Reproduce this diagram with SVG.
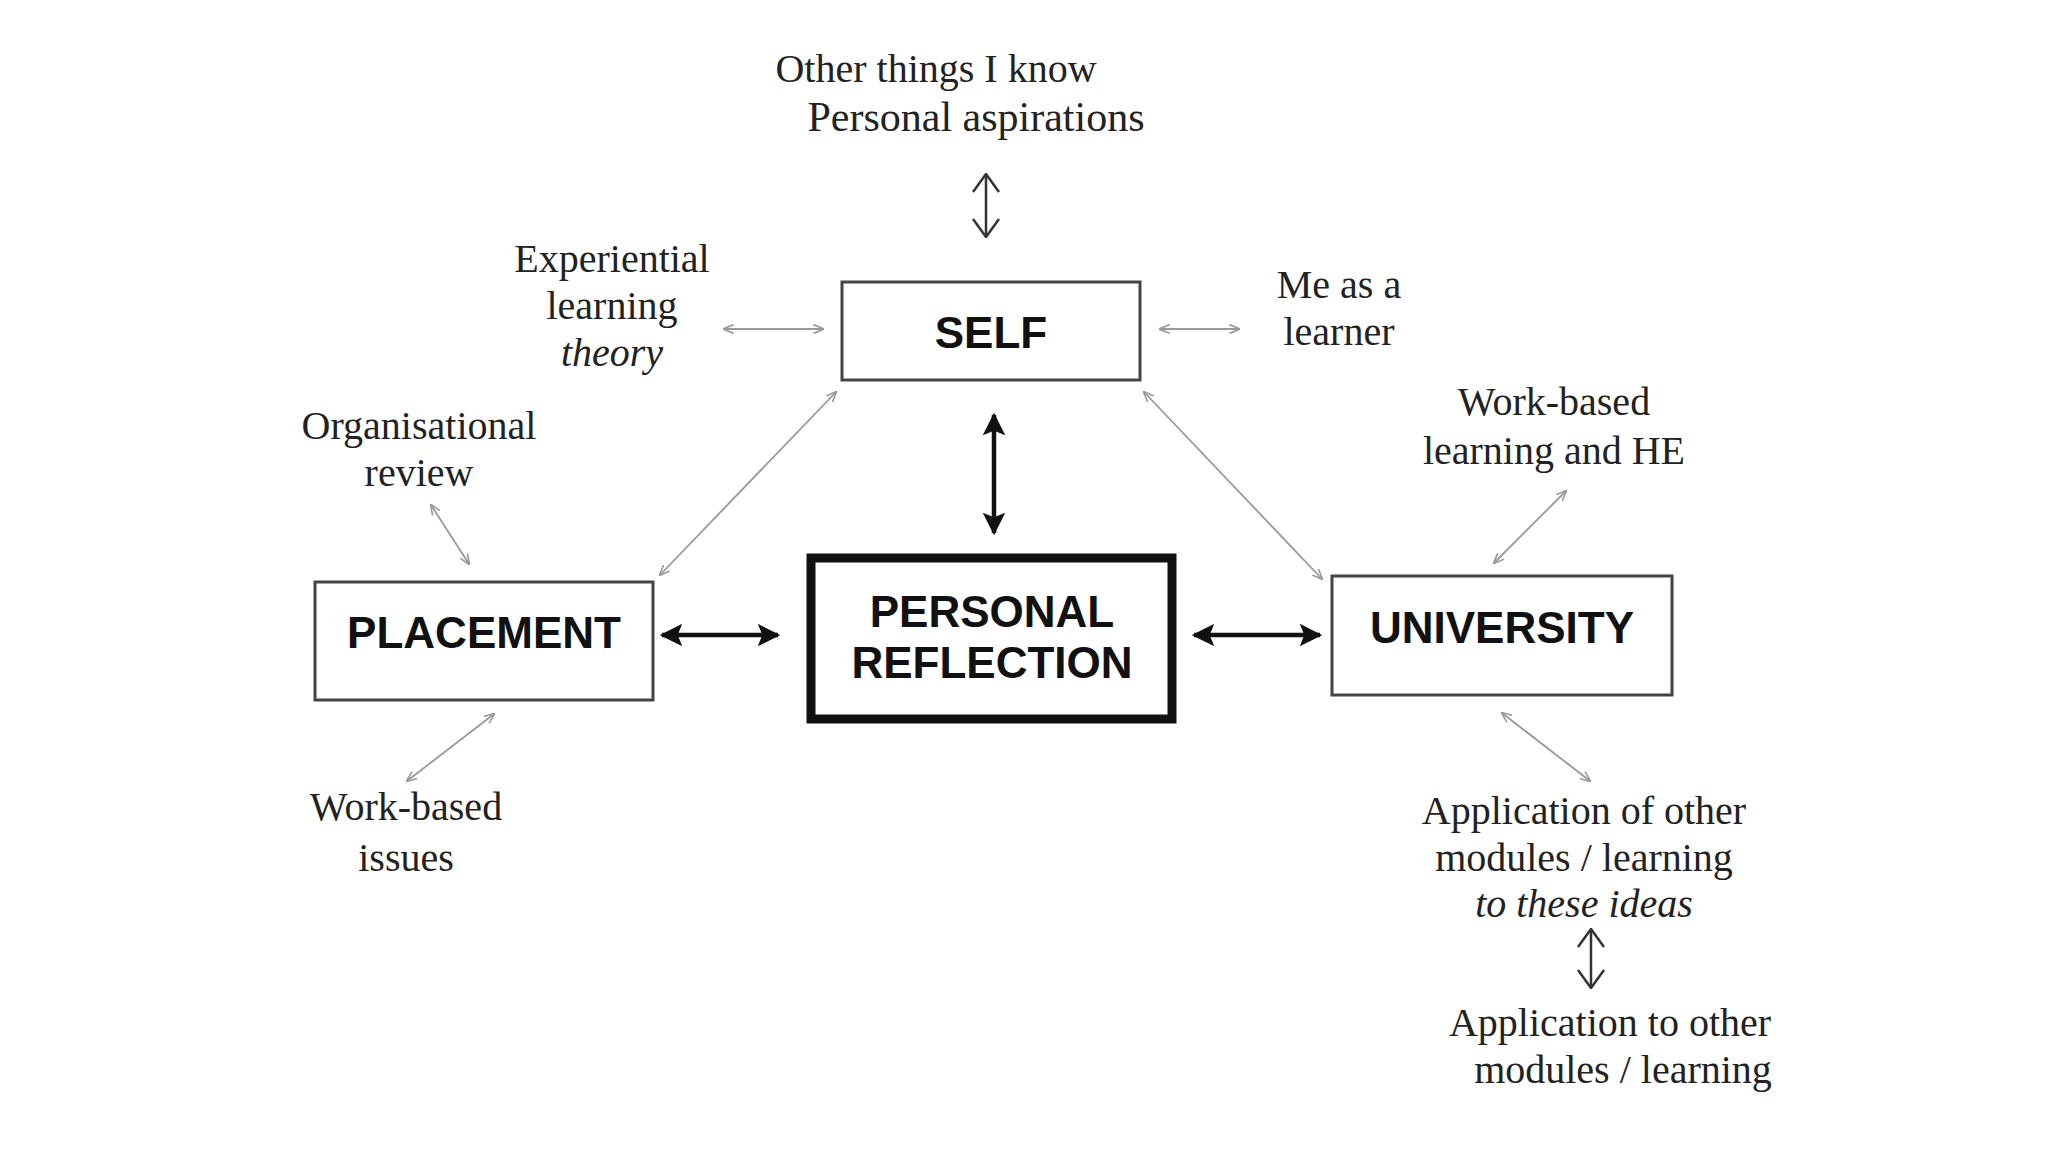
<svg xmlns="http://www.w3.org/2000/svg" width="2048" height="1152" viewBox="0 0 2048 1152">
<defs>
<style>
.lbl{font-family:"Liberation Serif","Times New Roman",serif;font-size:40px;fill:#222;text-anchor:middle}
.it{font-style:italic}
.box{fill:#fff;stroke:#444;stroke-width:3}
.bt{font-family:"Liberation Sans",Arial,sans-serif;font-weight:bold;font-size:44px;fill:#111;text-anchor:middle}
.thick{stroke:#111;stroke-width:4.5;fill:none;marker-start:url(#fh);marker-end:url(#fh)}
.thin{stroke:#999;stroke-width:1.8;fill:none;marker-start:url(#th);marker-end:url(#th)}
.open{stroke:#333;stroke-width:2.5;fill:none;marker-start:url(#oh);marker-end:url(#oh)}
</style>
<marker id="fh" viewBox="0 0 10 10" refX="9" refY="5" markerWidth="5" markerHeight="5" orient="auto-start-reverse" markerUnits="strokeWidth">
<path d="M0,0 L10,5 L0,10 L2,5 Z" fill="#111"/>
</marker>
<marker id="th" viewBox="0 0 10 10" refX="9" refY="5" markerWidth="6" markerHeight="6" orient="auto-start-reverse" markerUnits="strokeWidth">
<path d="M0,1 L10,5 L0,9" fill="none" stroke="#999" stroke-width="1.5"/>
</marker>
<marker id="oh" viewBox="0 0 20 28" refX="19" refY="14" markerWidth="8" markerHeight="11.2" orient="auto-start-reverse" markerUnits="strokeWidth">
<path d="M1,1 L19,14 L1,27" fill="none" stroke="#333" stroke-width="2.5"/>
</marker>
</defs>
<rect width="2048" height="1152" fill="#fff"/>

<g id="connectors">
<line class="open" x1="986" y1="174" x2="986" y2="237"/>
<line class="thin" x1="724" y1="329" x2="823" y2="329"/>
<line class="thin" x1="1160" y1="329" x2="1239" y2="329"/>
<line class="thick" x1="994" y1="415" x2="994" y2="533"/>
<line class="thick" x1="662" y1="635" x2="778" y2="635"/>
<line class="thick" x1="1194" y1="635" x2="1320" y2="635"/>
<line class="thin" x1="836" y1="392" x2="660" y2="575"/>
<line class="thin" x1="1144" y1="392" x2="1322" y2="579"/>
<line class="thin" x1="431" y1="505" x2="469" y2="564"/>
<line class="thin" x1="494" y1="714" x2="407" y2="781"/>
<line class="thin" x1="1566" y1="491" x2="1494" y2="563"/>
<line class="thin" x1="1502" y1="713" x2="1590" y2="781"/>
<line class="open" x1="1591" y1="929" x2="1591" y2="988"/>
</g>

<g id="self">
<rect class="box" x="842" y="282" width="298" height="98"/>
<text class="bt" x="991" y="348">SELF</text>
</g>

<g id="personal-reflection">
<rect x="811" y="558" width="361" height="161" fill="#fff" stroke="#111" stroke-width="9"/>
<text class="bt" x="992" y="627">PERSONAL</text>
<text class="bt" x="992" y="678">REFLECTION</text>
</g>

<g id="placement">
<rect class="box" x="315" y="582" width="338" height="118"/>
<text class="bt" x="484" y="648">PLACEMENT</text>
</g>

<g id="university">
<rect class="box" x="1332" y="576" width="340" height="119"/>
<text class="bt" x="1502" y="643">UNIVERSITY</text>
</g>

<g id="other-things">
<text class="lbl" x="936" y="82">Other things I know</text>
<text class="lbl" x="976" y="131" style="font-size:42px">Personal aspirations</text>
</g>

<g id="experiential">
<text class="lbl" x="612" y="272">Experiential</text>
<text class="lbl" x="612" y="319">learning</text>
<text class="lbl it" x="612" y="366">theory</text>
</g>

<g id="me-as-learner">
<text class="lbl" x="1339" y="298">Me as a</text>
<text class="lbl" x="1339" y="345">learner</text>
</g>

<g id="organisational">
<text class="lbl" x="419" y="439">Organisational</text>
<text class="lbl" x="419" y="486">review</text>
</g>

<g id="work-based-issues">
<text class="lbl" x="406" y="820">Work-based</text>
<text class="lbl" x="406" y="871">issues</text>
</g>

<g id="wbl-he">
<text class="lbl" x="1554" y="415">Work-based</text>
<text class="lbl" x="1554" y="464">learning and HE</text>
</g>

<g id="application-of">
<text class="lbl" x="1584" y="824">Application of other</text>
<text class="lbl" x="1584" y="871">modules / learning</text>
<text class="lbl it" x="1584" y="917">to these ideas</text>
</g>

<g id="application-to">
<text class="lbl" x="1610" y="1036">Application to other</text>
<text class="lbl" x="1623" y="1083">modules / learning</text>
</g>
</svg>
